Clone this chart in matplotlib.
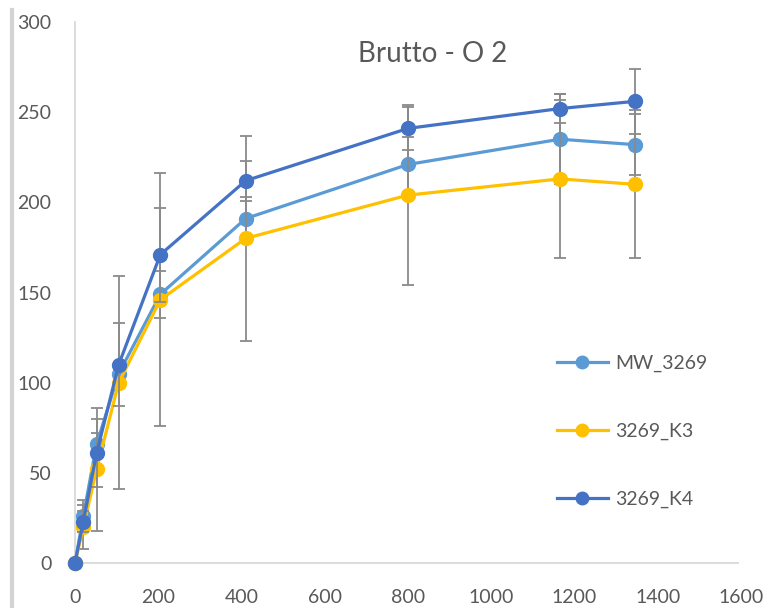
import matplotlib
matplotlib.use("Agg")
import matplotlib.pyplot as plt
from matplotlib.lines import Line2D

plt.rcParams['font.family'] = ['Lato', 'DejaVu Sans']

# sampling times and measured means
time = [0, 20, 52, 105, 205, 410, 800, 1165, 1345]
mw_3269 = [0, 26, 66, 105, 149, 191, 221, 235, 232]
k3_3269 = [0, 20, 52, 100, 146, 180, 204, 213, 210]
k4_3269 = [0, 23, 61, 110, 171, 212, 241, 252, 256]

# standard deviations
mw_err = [0, 9, 6, 6, 13, 12, 15, 25, 17]
k3_err = [0, 12, 34, 59, 70, 57, 50, 44, 41]
k4_err = [0, 6, 19, 23, 26, 11, 12, 8, 18]

labels = ["MW_3269", "3269_K3", "3269_K4"]
colors = ["#5b9bd5", "#ffc000", "#4472c4"]
series = [mw_3269, k3_3269, k4_3269]
errors = [mw_err, k3_err, k4_err]

txt = "#595959"

fig = plt.figure(figsize=(7.70, 6.08), dpi=100)
ax = fig.add_axes([75 / 770, 45 / 608, 666 / 770, 541 / 608])

for i, (ys, err, c) in enumerate(zip(series, errors, colors)):
    ax.errorbar(time, ys, yerr=err, fmt="none", ecolor="#8a8a8a",
                elinewidth=1.3, capsize=4.5, capthick=1.3, zorder=2 + 2 * i)
    ax.plot(time, ys, color=c, lw=2.3, marker="o", markersize=10,
            zorder=3 + 2 * i, clip_on=False)

ax.set_xlim(0, 1600)
ax.set_ylim(0, 300)
ax.set_xticks(range(0, 1601, 200))
ax.set_yticks(range(0, 301, 50))
ax.tick_params(length=0, labelsize=14, colors=txt)
ax.tick_params(axis="x", pad=19)
ax.tick_params(axis="y", pad=17)
for side in ("top", "right"):
    ax.spines[side].set_visible(False)
for side in ("left", "bottom"):
    ax.spines[side].set_color("#d9d9d9")
    ax.spines[side].set_linewidth(1.3)
ax.spines["bottom"].set_bounds(0, 1592)

fig.text(433 / 770, 1 - 54 / 608, "Brutto - O 2", ha="center", va="center",
         fontsize=20, color=txt)

# thin frame line along the left edge
fig.add_artist(Line2D([12 / 770, 12 / 770], [0, 1 - 10 / 608],
                      transform=fig.transFigure, color="#d4d4d4", lw=3))

handles = [Line2D([], [], color=c, lw=2.3, marker="o", markersize=9)
           for c in colors]
fig.legend(handles, labels, loc="upper left",
           bbox_to_anchor=(557 / 770, 1 - 355 / 608), frameon=False,
           fontsize=14, labelcolor=txt, labelspacing=2.6, handlelength=2.6,
           handletextpad=0.4, borderpad=0, borderaxespad=0)

fig.savefig("out.png", dpi=100, facecolor="white")
